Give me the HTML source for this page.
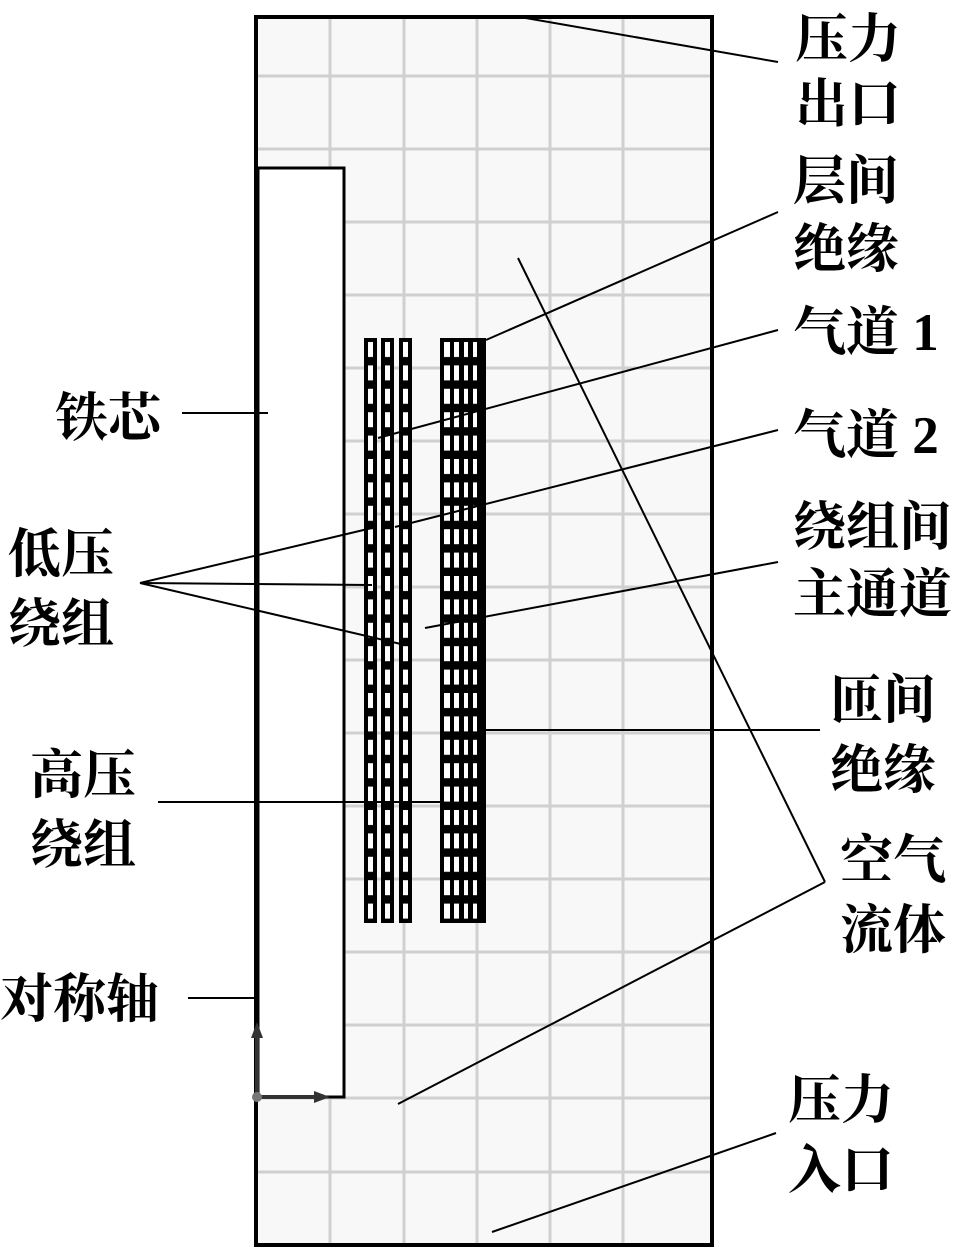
<!DOCTYPE html>
<html><head><meta charset="utf-8"><style>
html,body{margin:0;padding:0;background:#fff;}
svg{display:block}
text{font-family:"Liberation Serif","Noto Serif CJK SC","Noto Sans CJK SC",serif;font-size:53px;font-weight:bold;fill:#000}
</style></head><body>
<svg width="967" height="1252" viewBox="0 0 967 1252" xmlns="http://www.w3.org/2000/svg">
<defs>
<pattern id="lv1" x="364" y="338" width="13" height="23.4" patternUnits="userSpaceOnUse">
<rect width="13" height="23.4" fill="#000"/><rect x="4" y="4" width="5" height="15" fill="#fff"/>
</pattern>
<pattern id="lv2" x="381" y="338" width="13" height="23.4" patternUnits="userSpaceOnUse">
<rect width="13" height="23.4" fill="#000"/><rect x="4" y="4" width="5" height="15" fill="#fff"/>
</pattern>
<pattern id="lv3" x="399" y="338" width="13" height="23.4" patternUnits="userSpaceOnUse">
<rect width="13" height="23.4" fill="#000"/><rect x="4" y="4" width="5" height="15" fill="#fff"/>
</pattern>
<pattern id="hv" x="440" y="338" width="46" height="23.4" patternUnits="userSpaceOnUse">
<rect width="46" height="23.4" fill="#000"/>
<rect x="4" y="4" width="6" height="15" fill="#fff"/>
<rect x="14" y="4" width="5" height="15" fill="#fff"/>
<rect x="24" y="4" width="4" height="15" fill="#fff"/>
<rect x="33" y="4" width="4" height="15" fill="#fff"/>
</pattern>
</defs>
<rect x="256" y="17" width="456" height="1228" fill="#f8f8f8"/>
<g stroke="#d0d0d0" stroke-width="3">
<line x1="330" y1="17" x2="330" y2="1245"/><line x1="404" y1="17" x2="404" y2="1245"/>
<line x1="477" y1="17" x2="477" y2="1245"/><line x1="550" y1="17" x2="550" y2="1245"/>
<line x1="623" y1="17" x2="623" y2="1245"/>
<line x1="256" y1="76" x2="712" y2="76"/><line x1="256" y1="149" x2="712" y2="149"/>
<line x1="256" y1="222" x2="712" y2="222"/><line x1="256" y1="295" x2="712" y2="295"/>
<line x1="256" y1="368" x2="712" y2="368"/><line x1="256" y1="441" x2="712" y2="441"/>
<line x1="256" y1="514" x2="712" y2="514"/><line x1="256" y1="587" x2="712" y2="587"/>
<line x1="256" y1="660" x2="712" y2="660"/><line x1="256" y1="733" x2="712" y2="733"/>
<line x1="256" y1="806" x2="712" y2="806"/><line x1="256" y1="879" x2="712" y2="879"/>
<line x1="256" y1="952" x2="712" y2="952"/><line x1="256" y1="1025" x2="712" y2="1025"/>
<line x1="256" y1="1098" x2="712" y2="1098"/><line x1="256" y1="1172" x2="712" y2="1172"/>
</g>
<rect x="258" y="168" width="86" height="929" fill="#fff" stroke="#000" stroke-width="3"/>
<rect x="256" y="17" width="456" height="1228" fill="none" stroke="#000" stroke-width="4"/>
<rect x="364" y="338" width="13" height="585" fill="url(#lv1)"/>
<rect x="364" y="921" width="13" height="2" fill="#000"/>
<rect x="381" y="338" width="13" height="585" fill="url(#lv2)"/>
<rect x="381" y="921" width="13" height="2" fill="#000"/>
<rect x="399" y="338" width="13" height="585" fill="url(#lv3)"/>
<rect x="399" y="921" width="13" height="2" fill="#000"/>
<rect x="440" y="338" width="46" height="585" fill="url(#hv)"/>
<rect x="440" y="921" width="46" height="2" fill="#000"/>
<rect x="482" y="338" width="4" height="585" fill="#000"/>
<g stroke="#333" stroke-width="4" fill="#333">
<line x1="257" y1="1097" x2="257" y2="1030"/><line x1="257" y1="1097" x2="320" y2="1097"/>
<polygon points="257,1022 251,1038 263,1038" stroke="none"/>
<polygon points="330,1097 314,1091 314,1103" stroke="none"/>
</g>
<circle cx="257" cy="1097" r="5" fill="#777"/>
<g stroke="#000" stroke-width="2" fill="none">
<line x1="520" y1="17" x2="778" y2="62"/>
<line x1="486" y1="340" x2="778" y2="212"/>
<line x1="378" y1="438" x2="778" y2="330"/>
<line x1="395" y1="527" x2="778" y2="430"/>
<line x1="425" y1="628" x2="778" y2="562"/>
<line x1="486" y1="730" x2="820" y2="730"/>
<line x1="518" y1="258" x2="825" y2="882"/>
<line x1="398" y1="1104" x2="825" y2="882"/>
<line x1="492" y1="1232" x2="776" y2="1133"/>
<line x1="182" y1="413" x2="268" y2="413"/>
<line x1="140" y1="583" x2="372" y2="528"/>
<line x1="140" y1="583" x2="372" y2="585"/>
<line x1="140" y1="583" x2="405" y2="645"/>
<line x1="158" y1="802" x2="440" y2="802"/>
<line x1="188" y1="998" x2="257" y2="998"/>
</g>
<text x="795" y="57">压力</text><text x="795" y="122">出口</text>
<text x="793" y="199">层间</text><text x="793" y="267">绝缘</text>
<text x="793" y="350">气道 1</text>
<text x="793" y="453">气道 2</text>
<text x="793" y="545">绕组间</text><text x="793" y="612">主通道</text>
<text x="830" y="718">匝间</text><text x="830" y="788">绝缘</text>
<text x="840" y="878">空气</text><text x="840" y="948">流体</text>
<text x="788" y="1118">压力</text><text x="788" y="1188">入口</text>
<text x="55" y="436">铁芯</text>
<text x="8" y="572">低压</text><text x="8" y="642">绕组</text>
<text x="30" y="793">高压</text><text x="30" y="863">绕组</text>
<text x="0" y="1017">对称轴</text>
</svg>
</body></html>
